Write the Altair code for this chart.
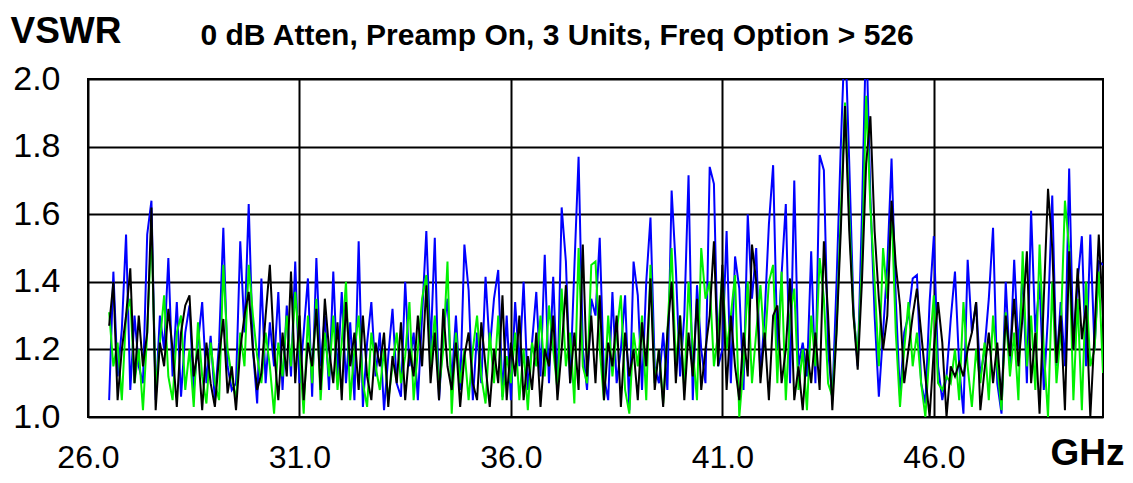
import altair as alt
import pandas as pd

# Frequency grid (GHz), 0.1 GHz steps from 26.5 to 50.0
freqs = [round(26.5 + 0.1 * i, 1) for i in range(236)]

blue_vals = [
    1.05, 1.43, 1.12, 1.26, 1.54,
    1.08, 1.30, 1.15, 1.10, 1.54, 1.64, 1.05, 1.30, 1.20, 1.47,
    1.12, 1.34, 1.06, 1.25, 1.33, 1.08, 1.22, 1.34, 1.10, 1.24,
    1.05, 1.22, 1.56, 1.15, 1.08, 1.10, 1.52, 1.25, 1.63, 1.20,
    1.04, 1.41, 1.10, 1.28, 1.15, 1.37, 1.08, 1.33, 1.12, 1.46,
    1.10, 1.25, 1.41, 1.06, 1.47, 1.15, 1.30, 1.08, 1.43, 1.12,
    1.37, 1.10, 1.28, 1.05, 1.52, 1.03, 1.22, 1.34, 1.12, 1.25,
    1.02, 1.18, 1.32, 1.10, 1.06, 1.40, 1.15, 1.25, 1.05, 1.30,
    1.55, 1.20, 1.53, 1.05, 1.25, 1.35, 1.10, 1.30, 1.08, 1.51,
    1.375, 1.05, 1.25, 1.10, 1.415, 1.20, 1.35, 1.435, 1.06, 1.30,
    1.05, 1.34, 1.15, 1.40, 1.08, 1.22, 1.37, 1.12, 1.48, 1.10,
    1.415, 1.08, 1.62, 1.46, 1.10, 1.44, 1.77, 1.20, 1.08, 1.35,
    1.30, 1.53, 1.12, 1.05, 1.37, 1.10, 1.20, 1.36, 1.02, 1.46,
    1.36, 1.08, 1.40, 1.59, 1.15, 1.10, 1.25, 1.08, 1.67, 1.44,
    1.12, 1.30, 1.715, 1.05, 1.39, 1.20, 1.10, 1.74, 1.69, 1.15,
    1.20, 1.55, 1.10, 1.475, 1.38, 1.08, 1.60, 1.35, 1.50, 1.12,
    1.30, 1.57, 1.745, 1.20, 1.42, 1.63, 1.10, 1.70, 1.15, 1.22,
    1.12, 1.49, 1.10, 1.775, 1.73, 1.20, 1.05, 1.40, 1.80, 2.15,
    1.75, 1.32, 1.15, 1.60, 2.15, 1.65, 1.30, 1.06, 1.25, 1.45,
    1.765, 1.35, 1.06, 1.25, 1.30, 1.41, 1.42, 1.10, 1.04, 1.34,
    1.535, 1.15, 1.05, 1.12, 1.29, 1.43, 1.15, 1.01, 1.465, 1.25,
    1.34, 1.12, 1.20, 1.35, 1.56, 1.10, 1.01, 1.40, 1.15, 1.465,
    1.20, 1.43, 1.10, 1.61, 1.25, 1.40, 1.08, 1.30, 1.655, 1.15,
    1.34, 1.15, 1.735, 1.20, 1.40, 1.535, 1.15, 1.54, 1.20, 1.46,
    1.45,
]

green_vals = [
    1.31, 1.15, 1.22, 1.05, 1.30,
    1.35, 1.10, 1.20, 1.02, 1.25, 1.56, 1.08, 1.22, 1.36, 1.12,
    1.05, 1.25, 1.30, 1.08, 1.20, 1.03, 1.28, 1.12, 1.04, 1.22,
    1.10, 1.05, 1.45, 1.20, 1.12, 1.05, 1.25, 1.15, 1.45, 1.30,
    1.18, 1.10, 1.25, 1.15, 1.01, 1.22, 1.12, 1.30, 1.15, 1.37,
    1.20, 1.01, 1.30, 1.10, 1.35, 1.05, 1.25, 1.12, 1.30, 1.08,
    1.22, 1.40, 1.05, 1.20, 1.30, 1.10, 1.03, 1.25, 1.15, 1.08,
    1.20, 1.05, 1.15, 1.25, 1.10, 1.18, 1.34, 1.05, 1.20, 1.35,
    1.42, 1.15, 1.30, 1.08, 1.20, 1.46, 1.01, 1.25, 1.10, 1.20,
    1.05, 1.20, 1.30, 1.12, 1.04, 1.25, 1.10, 1.30, 1.05, 1.18,
    1.10, 1.25, 1.05, 1.20, 1.02, 1.22, 1.15, 1.30, 1.12, 1.33,
    1.20, 1.08, 1.38, 1.15, 1.25, 1.04, 1.50, 1.15, 1.10, 1.45,
    1.46, 1.20, 1.05, 1.30, 1.12, 1.25, 1.36, 1.08, 1.01, 1.25,
    1.15, 1.30, 1.05, 1.45, 1.10, 1.20, 1.04, 1.25, 1.50, 1.15,
    1.30, 1.08, 1.40, 1.20, 1.05, 1.50, 1.35, 1.40, 1.15, 1.25,
    1.43, 1.20, 1.30, 1.42, 1.00, 1.15, 1.40, 1.10, 1.25, 1.39,
    1.20, 1.40, 1.45, 1.10, 1.43, 1.05, 1.30, 1.38, 1.08, 1.20,
    1.02, 1.30, 1.15, 1.47, 1.35, 1.10, 1.06, 1.26, 1.60, 1.93,
    1.60, 1.30, 1.18, 1.45, 1.95, 1.62, 1.40, 1.15, 1.50, 1.35,
    1.62, 1.25, 1.03, 1.20, 1.34, 1.15, 1.25, 1.10, 1.00, 1.20,
    1.36, 1.10, 1.08, 1.12, 1.10, 1.20, 1.05, 1.34, 1.15, 1.03,
    1.20, 1.10, 1.22, 1.05, 1.30, 1.15, 1.02, 1.31, 1.12, 1.25,
    1.05, 1.49, 1.15, 1.30, 1.08, 1.51, 1.20, 1.00, 1.40, 1.10,
    1.25, 1.64, 1.50, 1.05, 1.35, 1.02, 1.40, 1.15, 1.20, 1.43,
    1.13,
]

black_vals = [
    1.27, 1.40, 1.05, 1.20, 1.30,
    1.44, 1.10, 1.30, 1.15, 1.25, 1.62, 1.02, 1.22, 1.15, 1.32,
    1.20, 1.03, 1.25, 1.33, 1.36, 1.12, 1.20, 1.02, 1.22, 1.10,
    1.03, 1.18, 1.29, 1.07, 1.15, 1.02, 1.20, 1.30, 1.37, 1.20,
    1.08, 1.13, 1.30, 1.45, 1.20, 1.05, 1.25, 1.12, 1.43, 1.10,
    1.30, 1.05, 1.22, 1.15, 1.32, 1.08, 1.35, 1.20, 1.10, 1.28,
    1.05, 1.34, 1.15, 1.25, 1.08, 1.30, 1.12, 1.05, 1.22, 1.15,
    1.25, 1.03, 1.18, 1.10, 1.28, 1.05, 1.20, 1.12, 1.30, 1.15,
    1.39, 1.10, 1.25, 1.05, 1.32, 1.15, 1.08, 1.22, 1.03, 1.18,
    1.25, 1.10, 1.05, 1.28, 1.15, 1.03, 1.20, 1.10, 1.36, 1.05,
    1.22, 1.12, 1.30, 1.05, 1.18, 1.08, 1.25, 1.03, 1.20, 1.15,
    1.30, 1.05, 1.20, 1.39, 1.10, 1.25, 1.08, 1.51, 1.12, 1.30,
    1.10, 1.36, 1.05, 1.22, 1.15, 1.30, 1.03, 1.25, 1.12, 1.20,
    1.05, 1.28, 1.15, 1.41, 1.08, 1.20, 1.03, 1.25, 1.40, 1.10,
    1.30, 1.05, 1.25, 1.12, 1.35, 1.08, 1.20, 1.30, 1.52, 1.15,
    1.45, 1.08, 1.30, 1.15, 1.05, 1.25, 1.12, 1.51, 1.40, 1.10,
    1.25, 1.05, 1.30, 1.33, 1.10, 1.20, 1.41, 1.05, 1.15, 1.02,
    1.20, 1.10, 1.25, 1.08, 1.52, 1.30, 1.02, 1.25, 1.55, 1.92,
    1.55, 1.30, 1.14, 1.40, 1.75, 1.89, 1.55, 1.35, 1.20, 1.30,
    1.64, 1.45, 1.33, 1.10, 1.20, 1.30, 1.38, 1.25, 1.12, 1.00,
    1.20, 1.34, 1.22, 1.00, 1.15, 1.12, 1.16, 1.12, 1.20, 1.25,
    1.34, 1.02, 1.14, 1.25, 1.10, 1.22, 1.05, 1.30, 1.18, 1.35,
    1.15, 1.30, 1.49, 1.10, 1.25, 1.01, 1.35, 1.675, 1.50, 1.16,
    1.30, 1.02, 1.49, 1.20, 1.44, 1.23, 1.33, 1.00, 1.25, 1.54,
    1.30,
]

x_ticks = [26.0, 31.0, 36.0, 41.0, 46.0]
y_ticks = [1.0, 1.2, 1.4, 1.6, 1.8, 2.0]
title_text = "0 dB Atten, Preamp On, 3 Units, Freq Option > 526"

FONT = "Liberation Sans"

df_blue = pd.DataFrame({"f": freqs, "v": blue_vals})
df_green = pd.DataFrame({"f": freqs, "v": green_vals})
df_black = pd.DataFrame({"f": freqs, "v": black_vals})

xscale = alt.Scale(domain=[26, 50], nice=False, zero=False)
yscale = alt.Scale(domain=[1.0, 2.0], nice=False, zero=False)

x_bottom = alt.X(
    "f:Q", scale=xscale,
    axis=alt.Axis(
        values=x_ticks, format=".1f", grid=True, gridColor="#000000", gridWidth=2,
        domain=False, ticks=False, tickSize=0, labelFont=FONT, labelFontSize=32,
        labelColor="#000000", labelPadding=25, labelBaseline="top",
        title="GHz", titleFont=FONT, titleFontSize=37, titleFontWeight="bold",
        titleColor="#000000", titleX=962, titleY=47, titleAlign="left",
        titleBaseline="alphabetic", labelFlush=False, labelOverlap=False,
    ),
)
x_top = alt.X(
    "f:Q", scale=xscale,
    axis=alt.Axis(
        orient="top", grid=False, domain=False, ticks=False, labels=False,
        title=title_text, titleFont=FONT, titleFontSize=30, titleFontWeight="bold",
        titleColor="#000000", titleX=112, titleY=-35, titleAlign="left",
        titleBaseline="alphabetic",
    ),
)
y_enc = alt.Y(
    "v:Q", scale=yscale,
    axis=alt.Axis(
        values=y_ticks, format=".1f", grid=True, gridColor="#000000", gridWidth=2,
        domain=False, ticks=False, tickSize=0, labelFont=FONT, labelFontSize=34,
        labelColor="#000000", labelPadding=28, labelFlush=False, labelOverlap=False,
        title="VSWR", titleFont=FONT, titleFontSize=37, titleFontWeight="bold",
        titleColor="#000000", titleAngle=0, titleX=-78, titleY=-37,
        titleAlign="left", titleBaseline="alphabetic",
    ),
)

blue = alt.Chart(df_blue).mark_line(color="#0000ff", strokeWidth=2, clip=True).encode(
    x=x_bottom, y=y_enc
)
green = alt.Chart(df_green).mark_line(color="#00f000", strokeWidth=2, clip=True).encode(
    x=x_top, y=y_enc
)
black = alt.Chart(df_black).mark_line(color="#000000", strokeWidth=2, clip=True).encode(
    x=alt.X("f:Q", scale=xscale, axis=None), y=y_enc
)

chart = (
    alt.layer(blue, green, black)
    .resolve_axis(x="independent")
    .properties(
        width=1015, height=338,
        autosize=alt.AutoSizeParams(type="none"),
        padding={"left": 80, "top": 71, "right": 22, "bottom": 58},
        background="white",
    )
    .configure_view(stroke="#000000", strokeWidth=2)
)

chart.save("out.html", embed_options={"renderer": "svg", "actions": False})
